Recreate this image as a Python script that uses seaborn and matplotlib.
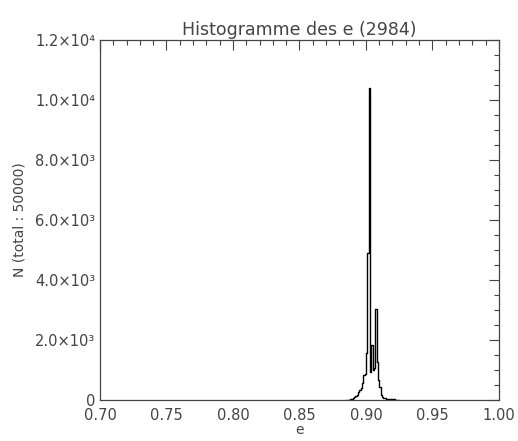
import numpy as np
import pandas as pd
import seaborn as sns
import matplotlib
matplotlib.use("Agg")
import matplotlib.pyplot as plt
from matplotlib.ticker import MultipleLocator, FuncFormatter

# histogram of e, bin centres and counts
e_centers = [0.8855, 0.8865, 0.8875, 0.8885, 0.8895, 0.8905, 0.8915, 0.8925,
             0.8935, 0.8945, 0.8955, 0.8965, 0.8975, 0.8985, 0.8995, 0.9005,
             0.9015, 0.9025, 0.9035, 0.9045, 0.9055, 0.9065, 0.9075, 0.9085,
             0.9095, 0.9105, 0.9115, 0.9125, 0.9135, 0.9145, 0.9155, 0.9165,
             0.9175, 0.9185, 0.9195, 0.9205, 0.9215, 0.9225, 0.9235, 0.9245]
counts = [0, 10, 15, 20, 30, 60, 90, 130,
          180, 250, 330, 400, 550, 830, 850, 1570,
          4900, 10400, 930, 1830, 1000, 1050, 3050, 1270,
          670, 430, 170, 90, 60, 50, 40, 30,
          30, 40, 25, 30, 20, 15, 10, 0]
bin_width = 0.001

df = pd.DataFrame({"e": e_centers, "n": counts})

sns.set_style("white")
plt.rcParams['font.family'] = ['DejaVu Sans']

fig = plt.figure(figsize=(5.18, 4.41), dpi=100)
ax = fig.add_axes([0.193, 0.093, 0.77, 0.816])

sns.histplot(data=df, x="e", weights="n", binwidth=bin_width,
             binrange=(0.885, 0.925), element="step",
             fill=False, color="black", linewidth=1.0, ax=ax)

ax.set_xlim(0.70, 1.00)
ax.set_ylim(0, 12000)
ax.xaxis.set_major_locator(MultipleLocator(0.05))
ax.xaxis.set_minor_locator(MultipleLocator(0.01))
ax.yaxis.set_major_locator(MultipleLocator(2000))
ax.yaxis.set_minor_locator(MultipleLocator(500))


def sci(v, pos):
    if v == 0:
        return "0"
    exp = int(np.floor(np.log10(abs(v))))
    sup = str.maketrans("0123456789", "⁰¹²³⁴⁵⁶⁷⁸⁹")
    return f"{v / 10**exp:.1f}×10" + str(exp).translate(sup)


ax.yaxis.set_major_formatter(FuncFormatter(sci))
ax.xaxis.set_major_formatter(FuncFormatter(lambda v, p: f"{v:.2f}"))

txt = "#444444"
ax.tick_params(which="both", direction="in", top=True, right=True,
               colors="#444444", labelcolor=txt, labelsize=10.5)
ax.tick_params(which="major", length=7, width=0.8)
ax.tick_params(which="minor", length=3.5, width=0.8)
ax.tick_params(axis="x", pad=6)
for s in ax.spines.values():
    s.set_color("#444444")
    s.set_linewidth(0.9)

ax.set_title("Histogramme des e (2984)", fontsize=12.5, color=txt, pad=4)
ax.set_xlabel("e", fontsize=10, color=txt, labelpad=0)
ax.set_ylabel("N (total : 50000)", fontsize=10, color=txt, labelpad=6)

fig.savefig("out.png", dpi=100)
